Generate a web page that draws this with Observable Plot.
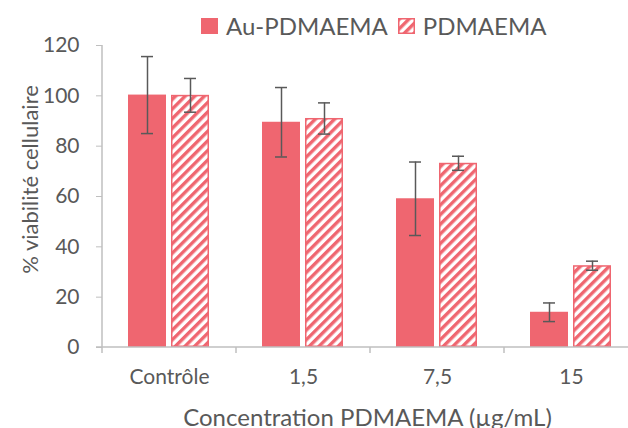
<!DOCTYPE html>
<html><head><meta charset="utf-8">
<script src="https://cdn.jsdelivr.net/npm/d3@7"></script>
<script src="https://cdn.jsdelivr.net/npm/@observablehq/plot@0.6"></script>
<style>
html,body{margin:0;background:#fff;font-family:Lato,sans-serif;overflow:hidden;}
#wrap{position:relative;width:628px;height:428px;overflow:hidden;}
#wrap > svg{display:block;max-width:none !important;width:638px !important;height:428px !important;}
#legend{position:absolute;top:11px;left:201px;display:flex;align-items:center;font-size:24px;color:#595959;white-space:nowrap;line-height:30px;}
#legend .sw{display:inline-block;width:17px;height:16px;margin-right:8px;}
#legend .item{display:flex;align-items:center;margin-right:10px;}
</style></head><body>
<svg width="0" height="0" style="position:absolute"><defs>
<pattern id="hatch" patternUnits="userSpaceOnUse" width="6.8" height="6.8" patternTransform="rotate(45)">
<rect width="6.8" height="6.8" fill="#fff"/><rect width="3.4" height="6.8" fill="#EF6670"/>
</pattern></defs></svg>
<div id="wrap"><div id="legend"></div></div>
<script>
const categories = ["Contrôle", "1,5", "7,5", "15"];
const series = ["Au-PDMAEMA", "PDMAEMA"];
const auMeans = [100.3, 89.5, 59.1, 14.0];
const auErrors = [15.3, 13.8, 14.6, 3.7];
const pdMeans = [100.2, 91.0, 73.2, 32.5];
const pdErrors = [6.7, 6.2, 2.8, 1.8];
const yTicks = [0, 20, 40, 60, 80, 100, 120];

const red = "#EF6670", grey = "#595959", axisGrey = "#bfbfbf";
const auRows = categories.map((c, i) => ({cat: c, series: series[0], value: auMeans[i], lo: auMeans[i] - auErrors[i], hi: auMeans[i] + auErrors[i]}));
const pdRows = categories.map((c, i) => ({cat: c, series: series[1], value: pdMeans[i], lo: pdMeans[i] - pdErrors[i], hi: pdMeans[i] + pdErrors[i]}));
const rows = auRows.concat(pdRows);

// the reference plot area runs past the right edge of the 628px picture (cropped)
const plot = Plot.plot({
  width: 638, height: 428,
  marginTop: 45, marginBottom: 81, marginLeft: 102, marginRight: 0,
  style: {fontFamily: "Lato, sans-serif", fontSize: "21px", color: grey, background: "#fff"},
  fx: {domain: categories, padding: 0},
  x: {domain: series, paddingInner: 0.116, paddingOuter: 0.616, axis: null},
  y: {domain: [0, 120]},
  marks: [
    Plot.axisY({ticks: yTicks, tickSize: 6, tickPadding: 17, stroke: axisGrey, fill: grey,
      label: "% viabilité cellulaire", labelAnchor: "center", labelArrow: "none", labelOffset: 80}),
    Plot.axisFx({anchor: "bottom", tickSize: 0, tickPadding: 22, fill: grey,
      label: "Concentration PDMAEMA (µg/mL)", labelAnchor: "center", labelArrow: "none", labelOffset: 80}),
    Plot.barY(auRows, {fx: "cat", x: "series", y: "value", fill: red}),
    Plot.barY(pdRows, {fx: "cat", x: "series", y: "value", fill: "url(#hatch)", stroke: red, strokeWidth: 1.5, inset: 0.75}),
    Plot.ruleX(rows, {fx: "cat", x: "series", y1: "lo", y2: "hi", stroke: grey, strokeWidth: 1.5}),
    Plot.tickY(rows, {fx: "cat", x: "series", y: "lo", stroke: grey, strokeWidth: 1.5, insetLeft: 13, insetRight: 13}),
    Plot.tickY(rows, {fx: "cat", x: "series", y: "hi", stroke: grey, strokeWidth: 1.5, insetLeft: 13, insetRight: 13})
  ]
});

// axis lines and category boundary ticks from the plot's own scales
const fx = plot.scale("fx"), ys = plot.scale("y");
const svg = d3.select(plot);
const y0 = ys.apply(0), yTop = ys.apply(120);
const left = fx.apply(categories[0]);
const right = fx.apply(categories[categories.length - 1]) + fx.bandwidth;
const g = svg.append("g").attr("stroke", axisGrey).attr("stroke-width", 1.5);
g.append("line").attr("x1", left).attr("x2", left).attr("y1", yTop).attr("y2", y0);
g.append("line").attr("x1", left - 6).attr("x2", right).attr("y1", y0).attr("y2", y0);
const edges = categories.map(c => fx.apply(c)).concat([right]);
edges.forEach(x => g.append("line").attr("x1", x).attr("x2", x).attr("y1", y0).attr("y2", y0 + 6));

// axis title sizes; centre the x title on the visible part and lift the y title
svg.selectAll('g[aria-label="y-axis label"] text').style("font-size", "22px");
svg.selectAll('g[aria-label="fx-axis label"] text').style("font-size", "24px");
const yl = svg.select('g[aria-label="y-axis label"]');
yl.attr("transform", (yl.attr("transform") || "") + " translate(0,-17)");
const xl = svg.select('g[aria-label="fx-axis label"]');
xl.attr("transform", (xl.attr("transform") || "") + " translate(-3,-2)");

document.getElementById("wrap").prepend(plot);

// legend
const legend = d3.select("#legend");
const i1 = legend.append("div").attr("class", "item");
i1.append("span").attr("class", "sw").style("background", red);
i1.append("span").text(series[0]);
const i2 = legend.append("div").attr("class", "item");
i2.append("svg").attr("class", "sw").attr("width", 17).attr("height", 16)
  .append("rect").attr("x", 0.75).attr("y", 0.75).attr("width", 15.5).attr("height", 14.5)
  .attr("fill", "url(#hatch)").attr("stroke", red).attr("stroke-width", 1.5);
i2.append("span").text(series[1]);
</script></body></html>
